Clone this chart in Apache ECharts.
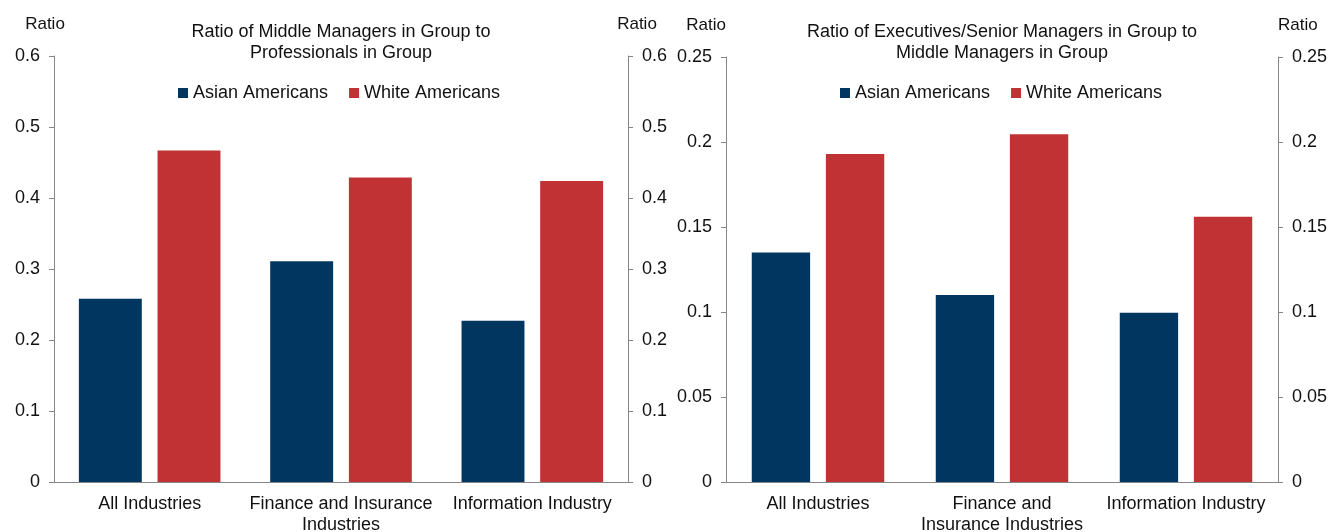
<!DOCTYPE html>
<html lang="en">
<head>
    <meta charset="UTF-8">
    <title>Ratio charts</title>
    <script src="https://cdn.jsdelivr.net/npm/echarts@6/dist/echarts.min.js"></script>
</head>
<body style="margin:0;background:#fff;">
<div id="main" style="width: 1332px;height:532px;"></div>
<script type="text/javascript">
    // categories (line breaks as they wrap in each panel)
    var categoriesLeft = ['All Industries', 'Finance and Insurance\nIndustries', 'Information Industry'];
    var categoriesRight = ['All Industries', 'Finance and\nInsurance Industries', 'Information Industry'];

    // middle managers / professionals
    var asianLeft = [0.258, 0.311, 0.227];
    var whiteLeft = [0.467, 0.429, 0.424];

    // executives / middle managers
    var asianRight = [0.135, 0.110, 0.0995];
    var whiteRight = [0.193, 0.2045, 0.156];

    var seriesNames = ['Asian Americans', 'White Americans'];
    var titles = ['Ratio of Middle Managers in Group to\nProfessionals in Group',
        'Ratio of Executives/Senior Managers in Group to\nMiddle Managers in Group'];

    var blue = '#00365f';
    var red = '#c03233';
    var axisGray = '#868686';
    var font = 'Liberation Sans, Arial, sans-serif';

    var myChart = echarts.init(document.getElementById('main'));

    function yAxis(grid, pos, max, interval, nameStyle) {
        return {
            type: 'value',
            gridIndex: grid,
            position: pos,
            min: 0,
            max: max,
            interval: interval,
            name: 'Ratio',
            nameLocation: 'end',
            nameGap: 23,
            nameTextStyle: Object.assign({color: '#111', fontSize: 17, fontFamily: font}, nameStyle),
            axisLine: {show: true, lineStyle: {color: axisGray, width: 1}},
            axisTick: {show: true, length: 5, lineStyle: {color: axisGray}},
            axisLabel: {color: '#111', fontSize: 18, fontFamily: font, margin: 14},
            splitLine: {show: false}
        };
    }

    function xAxis(grid, cats) {
        return {
            type: 'category',
            gridIndex: grid,
            data: cats,
            axisLine: {lineStyle: {color: axisGray, width: 1}},
            axisTick: {length: 5, lineStyle: {color: axisGray}},
            axisLabel: {color: '#111', fontSize: 18, fontFamily: font, margin: 12, lineHeight: 21, interval: 0}
        };
    }

    var option = {
        animation: false,
        title: [{
            text: titles[0], left: 341, top: 21, textAlign: 'center', padding: 0,
            textStyle: {fontSize: 18, fontWeight: 'normal', color: '#111', fontFamily: font, lineHeight: 21.6}
        }, {
            text: titles[1], left: 1002, top: 21, textAlign: 'center', padding: 0,
            textStyle: {fontSize: 18, fontWeight: 'normal', color: '#111', fontFamily: font, lineHeight: 21.6}
        }],
        legend: [{
            data: seriesNames, left: 178, top: 84, padding: 0, itemWidth: 10, itemHeight: 10, itemGap: 21,
            icon: 'rect', textStyle: {fontSize: 18, color: '#111', fontFamily: font}
        }, {
            data: seriesNames, left: 840, top: 84, padding: 0, itemWidth: 10, itemHeight: 10, itemGap: 21,
            icon: 'rect', textStyle: {fontSize: 18, color: '#111', fontFamily: font}
        }],
        grid: [
            {left: 54, right: 704, top: 56, bottom: 50, outerBoundsMode: 'none', containLabel: false},
            {left: 726, right: 54, top: 57, bottom: 50, outerBoundsMode: 'none', containLabel: false}
        ],
        xAxis: [xAxis(0, categoriesLeft), xAxis(1, categoriesRight)],
        yAxis: [
            yAxis(0, 'left', 0.6, 0.1, {align: 'center', padding: [0, 18, 0, 0]}),
            yAxis(0, 'right', 0.6, 0.1, {align: 'center', padding: [0, 0, 0, 18]}),
            yAxis(1, 'left', 0.25, 0.05, {align: 'right'}),
            yAxis(1, 'right', 0.25, 0.05, {align: 'left'})
        ],
        series: [
            {name: seriesNames[0], type: 'bar', xAxisIndex: 0, yAxisIndex: 0, data: asianLeft,
                itemStyle: {color: blue}, barGap: '25%', barCategoryGap: '26%'},
            {name: seriesNames[1], type: 'bar', xAxisIndex: 0, yAxisIndex: 0, data: whiteLeft,
                itemStyle: {color: red}, barGap: '25%', barCategoryGap: '26%'},
            {name: seriesNames[0], type: 'bar', xAxisIndex: 1, yAxisIndex: 2, data: asianRight,
                itemStyle: {color: blue}, barGap: '27%', barCategoryGap: '28%'},
            {name: seriesNames[1], type: 'bar', xAxisIndex: 1, yAxisIndex: 2, data: whiteRight,
                itemStyle: {color: red}, barGap: '27%', barCategoryGap: '28%'}
        ]
    };

    myChart.setOption(option);
</script>
</body>
</html>
